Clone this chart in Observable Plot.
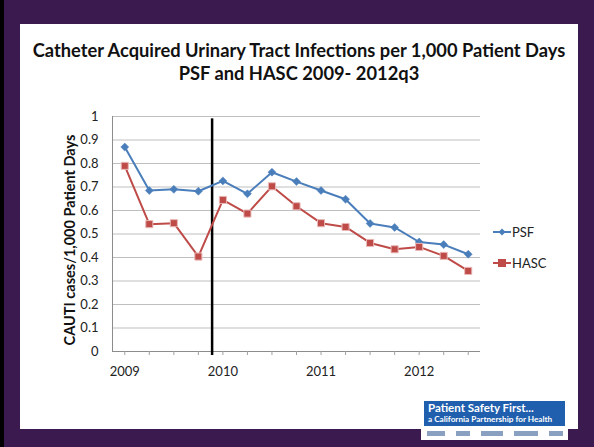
<!DOCTYPE html>
<html>
<head>
<meta charset="utf-8">
<script src="https://cdn.jsdelivr.net/npm/d3@7"></script>
<script src="https://cdn.jsdelivr.net/npm/@observablehq/plot@0.6"></script>
<style>
  html, body { margin: 0; padding: 0; }
  body { width: 594px; height: 447px; overflow: hidden; font-family: Lato, "Open Sans", sans-serif; }
  #frame { position: absolute; left: 0; top: 0; width: 594px; height: 447px; background: #3a1a4f; }
  #frame::before { content: ""; position: absolute; left: 0; top: 0; width: 4px; height: 447px; background: #000; }
  #slide { position: absolute; left: 20px; top: 24px; width: 558px; height: 405px; background: #fff; }
  #title { position: absolute; left: 20px; top: 39px; width: 558px; text-align: center; font-weight: bold; font-size: 18.3px; line-height: 23px; color: #111; }
  #chart { position: absolute; left: 20px; top: 100px; }
  #ytitle { position: absolute; left: 69px; top: 240px; transform: translate(-50%, -50%) rotate(-90deg); white-space: nowrap; font-weight: bold; font-size: 14.5px; color: #111; }
  #legend { position: absolute; left: 493px; top: 216px; font-size: 13px; color: #222; }
  #legend div { display: flex; align-items: center; height: 31px; }
  #legend svg { margin-right: 1px; }
  #logo { position: absolute; left: 421px; top: 399px; width: 147px; height: 41px; background: #fff; }
  #logo .blue { position: absolute; left: 3px; top: 2px; width: 141px; height: 25px; background: #1f5fae; color: #fff; }
  #logo .l1 { position: absolute; left: 4px; top: 0px; font-size: 11.5px; font-weight: bold; }
  #logo .l2 { position: absolute; left: 4px; top: 13px; font-size: 8.2px; font-weight: bold; }
  #logo .small { position: absolute; left: 6px; top: 30px; width: 136px; height: 8px; display: flex; justify-content: space-between; align-items: center; }
  #logo .small span { display: inline-block; height: 5px; background: #8aa0c0; }
</style>
</head>
<body>
<div id="frame"></div>
<div id="slide"></div>
<div id="title">Catheter Acquired Urinary Tract Infections per 1,000 Patient Days<br>PSF and HASC 2009- 2012q3</div>
<div id="chart"></div>
<div id="ytitle">CAUTI cases/1,000 Patient Days</div>
<div id="legend"></div>
<div id="logo">
  <div class="blue"><div class="l1">Patient Safety First...</div><div class="l2">a California Partnership for Health</div></div>
  <div class="small"><span style="width:18px"></span><span style="width:14px"></span><span style="width:22px"></span><span style="width:24px"></span><span style="width:14px"></span></div>
</div>
<script>
// Quarters 2009q1 .. 2012q3
const periods = ["2009q1","2009q2","2009q3","2009q4","2010q1","2010q2","2010q3","2010q4",
                 "2011q1","2011q2","2011q3","2011q4","2012q1","2012q2","2012q3"];
const psf  = [0.87, 0.685, 0.69, 0.682, 0.726, 0.671, 0.763, 0.723, 0.685, 0.648, 0.545, 0.528, 0.466, 0.455, 0.414];
const hasc = [0.79, 0.542, 0.546, 0.404, 0.645, 0.587, 0.703, 0.618, 0.546, 0.53, 0.462, 0.435, 0.445, 0.407, 0.343];
const yearLabels = {"2009q1": "2009", "2010q1": "2010", "2011q1": "2011", "2012q1": "2012"};
const yTicks = [0, 0.1, 0.2, 0.3, 0.4, 0.5, 0.6, 0.7, 0.8, 0.9, 1];
const seriesNames = ["PSF", "HASC"];
const seriesColors = ["#4a7ebb", "#be4b48"];
// vertical marker between 2009q4 and 2010q1
const markerPos = 3.56;

const rows = [];
periods.forEach((p, i) => {
  rows.push({i, period: p, series: "PSF", value: psf[i]});
  rows.push({i, period: p, series: "HASC", value: hasc[i]});
});
const psfRows = rows.filter(d => d.series === "PSF");
const hascRows = rows.filter(d => d.series === "HASC");
const idx = periods.map((p, i) => i);

const chart = Plot.plot({
  width: 558,
  height: 290,
  marginLeft: 92,
  marginRight: 98,
  marginTop: 16,
  marginBottom: 39,
  style: {fontFamily: "Lato, 'Open Sans', sans-serif", fontSize: "13px", color: "#222", background: "transparent"},
  x: {domain: [-0.5, periods.length - 0.5], label: null},
  y: {domain: [0, 1], label: null},
  marks: [
    Plot.gridY(yTicks.slice(1), {stroke: "#bfbfbf", strokeOpacity: 1, strokeWidth: 1}),
    Plot.ruleX([-0.5], {y1: 0, y2: 1, stroke: "#8c8c8c"}),
    Plot.ruleY([0], {stroke: "#8c8c8c"}),
    Plot.axisX(idx, {tickSize: 4, stroke: "#a0a0a0", tickPadding: 11, tickFormat: i => yearLabels[periods[i]] ?? "", fill: "#222", label: null}),
    Plot.axisY(yTicks, {tickSize: 0, tickPadding: 14, tickFormat: d => String(d), fill: "#222", label: null}),
    Plot.ruleX([markerPos], {y1: -0.017, y2: 0.99, stroke: "#000", strokeWidth: 2.5}),
    Plot.line(psfRows, {x: "i", y: "value", stroke: seriesColors[0], strokeWidth: 2}),
    Plot.line(hascRows, {x: "i", y: "value", stroke: seriesColors[1], strokeWidth: 2}),
    Plot.dot(psfRows, {x: "i", y: "value", symbol: "diamond2", r: 3.6, fill: seriesColors[0], stroke: seriesColors[0], strokeWidth: 0.5}),
    Plot.dot(hascRows, {x: "i", y: "value", symbol: "square", r: 4, fill: seriesColors[1], stroke: "#e8b8b6", strokeWidth: 1})
  ]
});
document.getElementById("chart").appendChild(chart);

// legend
const legend = document.getElementById("legend");
seriesNames.forEach((name, k) => {
  const row = document.createElement("div");
  const sym = k === 0
    ? `<rect x="6.5" y="3.5" width="5" height="5" transform="rotate(45 9 6)" fill="${seriesColors[k]}"/>`
    : `<rect x="5" y="2" width="8" height="8" fill="${seriesColors[k]}"/>`;
  row.innerHTML = `<svg width="18" height="12"><line x1="0" x2="18" y1="6" y2="6" stroke="${seriesColors[k]}" stroke-width="2"/>${sym}</svg><span>${name}</span>`;
  legend.appendChild(row);
});
</script>
</body>
</html>
